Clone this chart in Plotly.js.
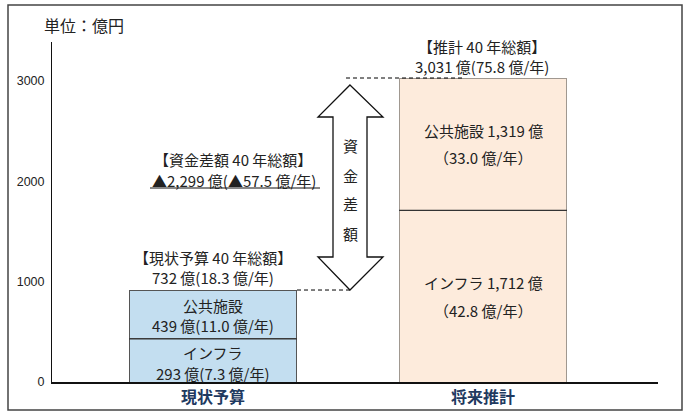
<!DOCTYPE html>
<html><head><meta charset="utf-8">
<script src="https://cdn.plot.ly/plotly-3.0.1.min.js"></script>
<style>html,body{margin:0;padding:0;background:#fff;}</style>
</head><body><div id="chart" style="width:690px;height:418px;"></div>
<script>
// ---- data ----
const categories = ['現状予算', '将来推計'];
// segment heights as drawn in the picture (億円)
const infraHeight = [430, 1712];
const facilityHeight = [487, 1319];
const yTicks = [0, 1000, 2000, 3000];
const yTickText = ['0', '1000', '2000', '3000'];
// label texts
const leftTitle = ['【現状予算 40 年総額】', '732 億(18.3 億/年)'];
const leftFacility = ['公共施設', '439 億(11.0 億/年)'];
const leftInfra = ['インフラ', '293 億(7.3 億/年)'];
const rightTitle = ['【推計 40 年総額】', '3,031 億(75.8 億/年)'];
const rightFacility = ['公共施設 1,319 億', '（33.0 億/年）'];
const rightInfra = ['インフラ 1,712 億', '（42.8 億/年）'];
const gapTitle = ['【資金差額 40 年総額】', '▲2,299 億(▲57.5 億/年)'];
const gapVertical = ['資', '金', '差', '額'];
const unitText = '単位：億円';

// ---- layout helpers (pixel -> paper) ----
const L = 52, R = 658, T = 42, B = 382;
const px = v => (v - L) / (R - L);
const py = v => (B - v) / (B - T);
const xRange = [-0.5963, 1.6481];
const yRange = [0, 3390];
const barW = 0.622;
const FONT = '"Noto Sans CJK JP", "Noto Sans", sans-serif';
const txtColor = '#222';

const totals = infraHeight.map((v, i) => v + facilityHeight[i]);

const traces = [
  {type: 'bar', x: categories, y: infraHeight, width: barW, name: 'インフラ',
   marker: {color: ['#C3DEF0', '#FDEBDC'], line: {color: ['#555', '#A09890'], width: 1}},
   hoverinfo: 'none'},
  {type: 'bar', x: categories, y: facilityHeight, width: barW, name: '公共施設',
   marker: {color: ['#C3DEF0', '#FDEBDC'], line: {color: ['#555', '#A09890'], width: 1}},
   hoverinfo: 'none'}
];

function ann(x, y, text, size, extra) {
  return Object.assign({xref: 'paper', yref: 'paper', x: px(x), y: py(y), text: text,
    showarrow: false, xanchor: 'center', yanchor: 'middle',
    font: {family: FONT, size: size || 15, color: txtColor}}, extra || {});
}

const annotations = [
  ann(84, 25, unitText, 16),
  ann(482, 47, rightTitle[0]), ann(482, 67, rightTitle[1]),
  ann(483, 130, rightFacility[0]), ann(483, 157, rightFacility[1]),
  ann(483, 282, rightInfra[0]), ann(483, 310, rightInfra[1]),
  ann(233, 159, gapTitle[0]), ann(234, 180, gapTitle[1]),
  ann(213, 257, leftTitle[0]), ann(213, 277, leftTitle[1]),
  ann(213, 305, leftFacility[0]), ann(213, 325, leftFacility[1]),
  ann(213, 352, leftInfra[0]), ann(213, 373, leftInfra[1])
];
const vY = [145, 175, 203, 233];
gapVertical.forEach((c, i) => annotations.push(ann(350, vY[i], c, 15)));

// double arrow path
const pts = [[350,85],[383,117],[367,117],[367,257],[383,257],[350,290],[318,257],[333,257],[333,117],[318,117]];
const path = 'M ' + pts.map(p => px(p[0]).toFixed(4) + ',' + py(p[1]).toFixed(4)).join(' L ') + ' Z';

const shapes = [
  // outer frame
  {type: 'rect', xref: 'paper', yref: 'paper', x0: px(8), x1: px(682), y0: py(410), y1: py(5),
   line: {color: '#444', width: 1.5}, fillcolor: 'rgba(0,0,0,0)', layer: 'below'},
  // dividers between segments
  ...infraHeight.map((v, i) => ({type: 'line', xref: 'x', yref: 'y', x0: i - barW/2, x1: i + barW/2,
    y0: v, y1: v, line: {color: '#333', width: 1.3}})),
  // dashed level lines
  {type: 'line', xref: 'paper', yref: 'y', x0: px(297), x1: px(350), y0: totals[0], y1: totals[0],
   line: {color: '#000', width: 1, dash: '4px,3px'}},
  {type: 'line', xref: 'paper', yref: 'y', x0: px(346), x1: px(463), y0: totals[1], y1: totals[1],
   line: {color: '#000', width: 1, dash: '4px,3px'}},
  // double arrow
  {type: 'path', xref: 'paper', yref: 'paper', path: path, fillcolor: '#fff', line: {color: '#111', width: 1.3}},
  // underline
  {type: 'line', xref: 'paper', yref: 'paper', x0: px(150), x1: px(320), y0: py(188), y1: py(188),
   line: {color: '#111', width: 1}}
];

const layout = {
  width: 690, height: 418,
  margin: {l: L, r: 690 - R, t: T, b: 418 - B, pad: 0},
  paper_bgcolor: '#fff', plot_bgcolor: '#fff',
  barmode: 'stack', showlegend: false,
  xaxis: {type: 'category', range: xRange, showline: true, linecolor: '#111', linewidth: 2,
    showgrid: false, zeroline: false, ticks: '', fixedrange: true,
    tickfont: {family: FONT, size: 16, color: '#1F3A60', weight: 'bold'},
    tickvals: categories, ticktext: categories.map(c => '<b>' + c + '</b>')},
  yaxis: {range: yRange, showline: true, linecolor: '#111', linewidth: 1, showgrid: false,
    zeroline: false, ticks: '', tickvals: yTicks, ticktext: yTickText, ticklabelstandoff: 4,
    tickfont: {family: '"Liberation Sans", Arial, sans-serif', size: 12.5, color: '#222'}},
  annotations: annotations,
  shapes: shapes
};

Plotly.newPlot('chart', traces, layout, {staticPlot: true, displayModeBar: false});
</script>
</body></html>
